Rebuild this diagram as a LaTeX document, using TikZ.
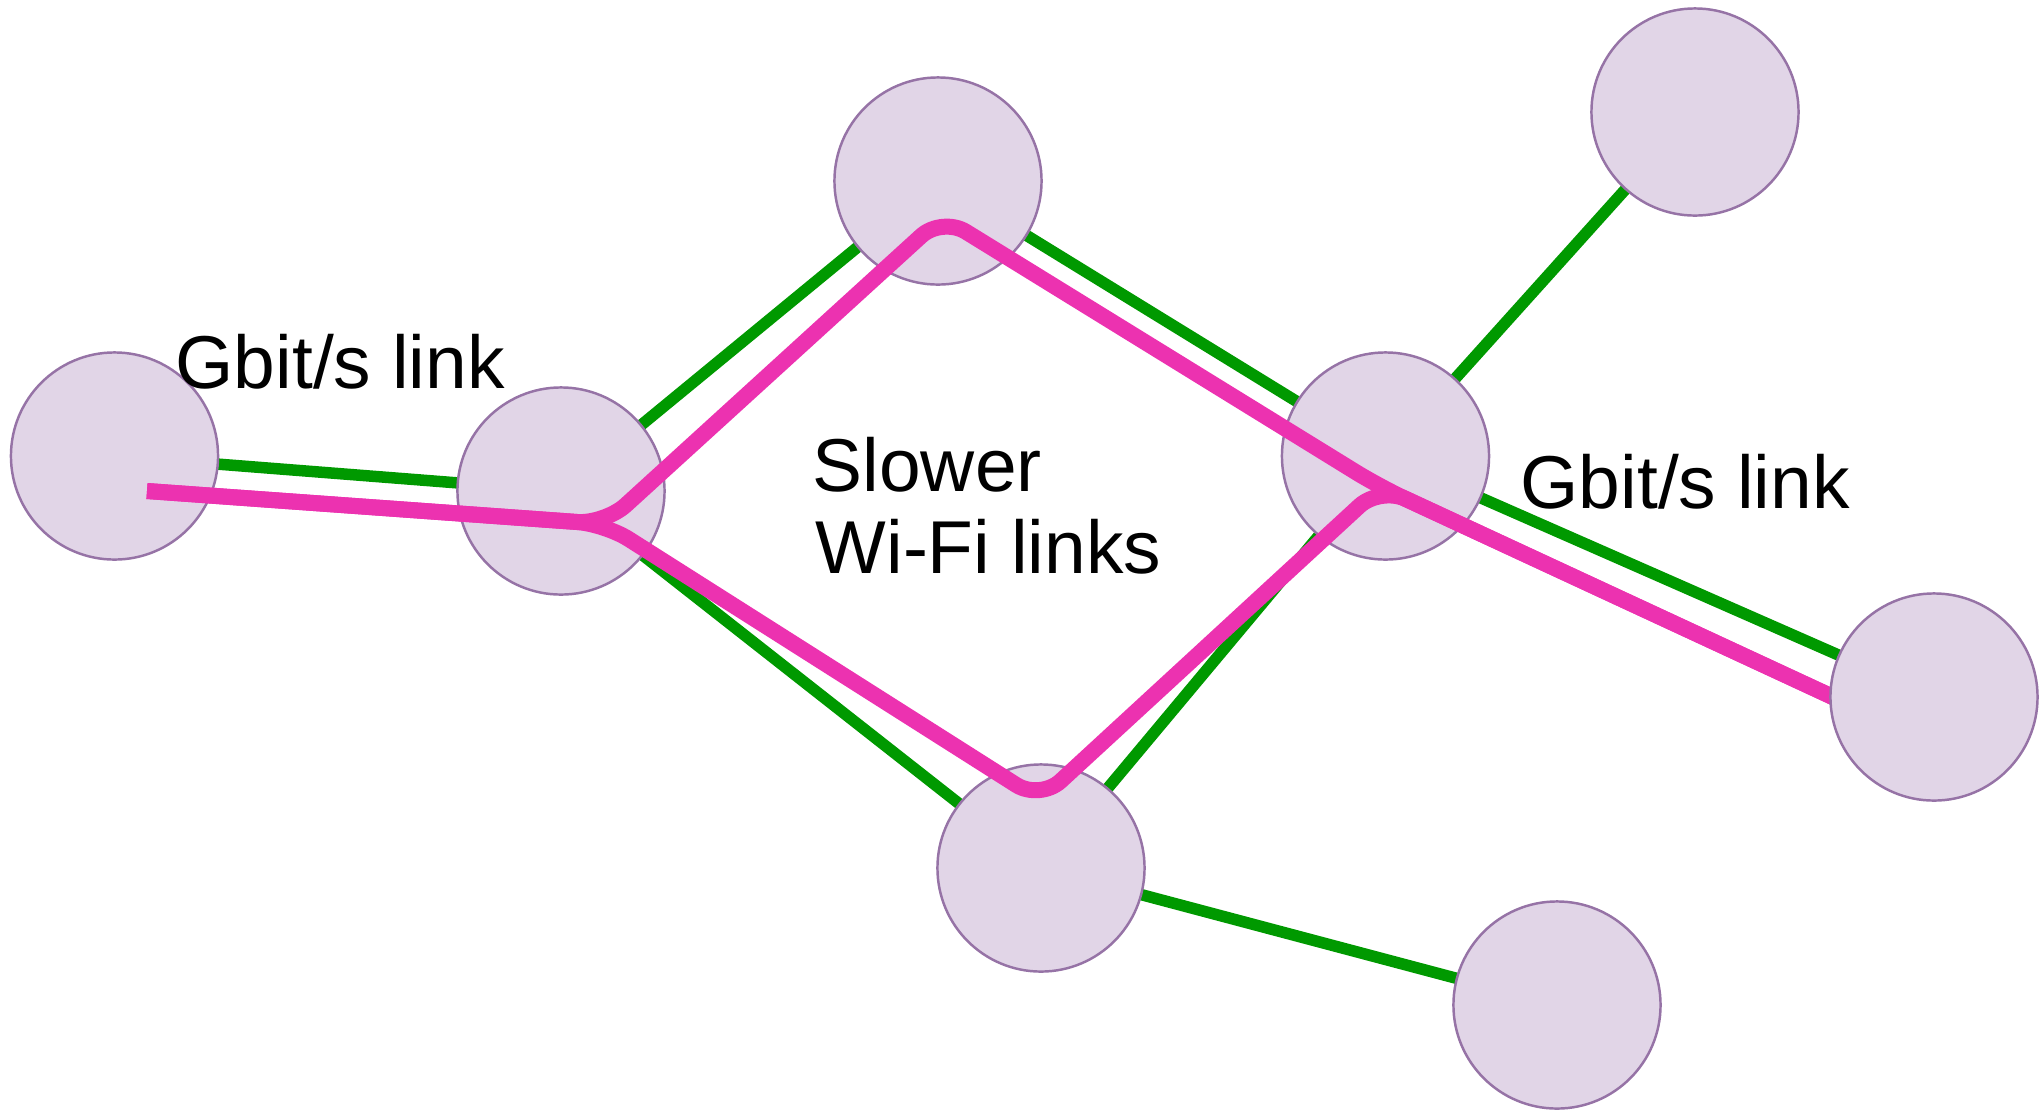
\documentclass[tikz,border=0pt]{standalone}
\usepackage{fontspec}
\setmainfont{Liberation Sans}
\usetikzlibrary{backgrounds}
\definecolor{nodefill}{HTML}{E1D5E7}
\definecolor{nodeline}{HTML}{9673A6}
\definecolor{linkgreen}{HTML}{009900}
\definecolor{routepink}{HTML}{EC32B0}
\begin{document}
\begin{tikzpicture}[x=0.01cm, y=-0.01cm,
  host/.style={circle, fill=nodefill, draw=nodeline, line width=0.7pt,
               minimum size=2.07cm, inner sep=0pt},
  link/.style={draw=linkgreen, line width=0.115cm},
  route/.style={draw=routepink, line width=0.16cm, rounded corners=0.28cm},
  linktext/.style={inner sep=0pt, anchor=base west,
                   font=\fontsize{21.3}{25}\selectfont}]
\useasboundingbox (0,0) rectangle (2041,1111);

% hosts
\node[host] (A) at (114.5, 456) {};
\node[host] (B) at (561, 491) {};
\node[host] (C) at (938, 181) {};
\node[host] (D) at (1385.5, 456) {};
\node[host] (E) at (1695, 112) {};
\node[host] (G) at (1041, 868) {};
\node[host] (H) at (1557, 1005) {};

% the two routes, drawn over the hosts they pass
\coordinate (rs) at (147, 491);
\coordinate (rj1) at (605, 524);
\coordinate (rc) at (942, 217);
\coordinate (rg) at (1040, 800);
\coordinate (rj2) at (1380, 487);
\coordinate (re) at (1850, 705);
\draw[route] (rs) -- (rj1) -- (rc) -- (rj2) -- (re);
\draw[route] (rs) -- (rj1) -- (rg) -- (rj2) -- (re);

% the route ends under this host
\node[host] (F) at (1934, 697) {};

% links between hosts, behind everything
\begin{scope}[on background layer]
  \fill[white] (0,0) rectangle (2041,1111);
  \draw[link] (A.center) -- (B.center);
  \draw[link] (B.center) -- (C.center);
  \draw[link] (C.center) -- (D.center);
  \draw[link] (B.center) -- (G.center);
  \draw[link] (G.center) -- (D.center);
  \draw[link] (D.center) -- (E.center);
  \draw[link] (D.center) -- (F.center);
  \draw[link] (G.center) -- (H.center);
\end{scope}

% labels
\node[linktext] (gbitleft) at (175, 388) {Gbit/s link};
\node[linktext] (gbitright) at (1520, 508) {Gbit/s link};
\node[linktext] (slower) at (812, 491) {Slower};
\node[linktext] (wifi) at (815, 573) {Wi-Fi links};
\end{tikzpicture}
\end{document}
